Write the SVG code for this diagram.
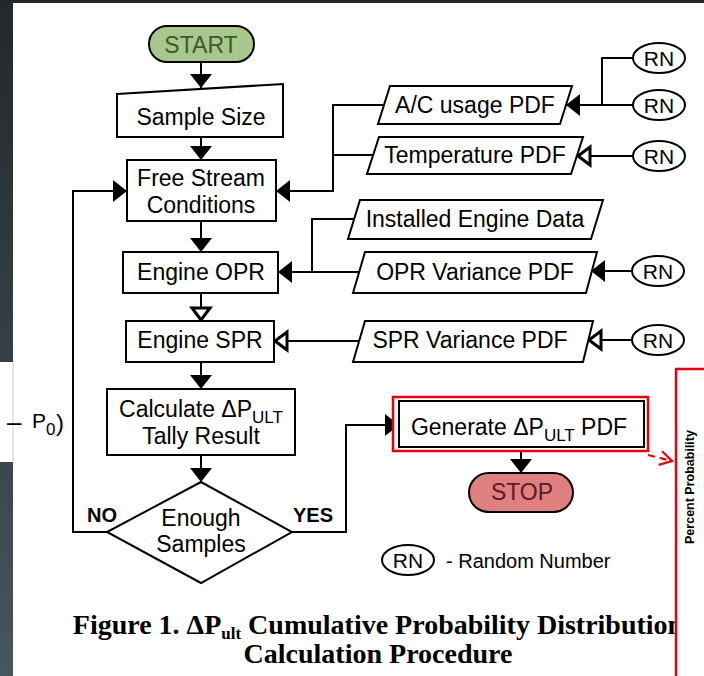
<svg xmlns="http://www.w3.org/2000/svg" width="704" height="676" viewBox="0 0 704 676">
<defs>
<linearGradient id="bg" x1="0" y1="0" x2="0" y2="1">
<stop offset="0" stop-color="#22282b"/>
<stop offset="1" stop-color="#46565f"/>
</linearGradient>
<marker id="af" markerUnits="userSpaceOnUse" viewBox="0 0 14 22" refX="14" refY="11" markerWidth="14" markerHeight="22" orient="auto">
<path d="M0,0 L14,11 L0,22 Z" fill="#000"/>
</marker>
<marker id="ah" markerUnits="userSpaceOnUse" viewBox="-3 -3 18 24" refX="12" refY="9" markerWidth="18" markerHeight="24" orient="auto">
<path d="M0,0 L12,9 L0,18 Z" fill="#fff" stroke="#000" stroke-width="3" stroke-linejoin="miter"/>
</marker>
<marker id="ar" markerUnits="userSpaceOnUse" viewBox="-2 -2 16 18" refX="12" refY="7" markerWidth="16" markerHeight="18" orient="auto">
<path d="M0,0 L12,7 L0,14" fill="none" stroke="#e8000b" stroke-width="2.2"/>
</marker>
</defs>
<style>
.t{font-family:"Liberation Sans",Arial,sans-serif;font-size:23px;fill:#000;text-anchor:middle}
.rn{font-family:"Liberation Sans",Arial,sans-serif;font-size:21px;fill:#000;text-anchor:middle}
.lbl{font-family:"Liberation Sans",Arial,sans-serif;font-size:20px;font-weight:bold;fill:#000;text-anchor:middle}
.sh{fill:#fff;stroke:#000;stroke-width:2}
.ell{fill:#fff;stroke:#000;stroke-width:2}
.c path{fill:none;stroke:#000;stroke-width:2}
.cap{font-family:"Liberation Serif","Times New Roman",serif;font-size:28px;font-weight:bold;fill:#000;text-anchor:middle}
.side{font-family:"Liberation Sans",Arial,sans-serif;fill:#000}
</style>

<rect x="0" y="0" width="704" height="676" fill="url(#bg)"/>
<rect x="13" y="3" width="691" height="673" fill="#fff"/>
<rect x="0" y="362" width="13" height="100" fill="#fff"/>
<line x1="13" y1="362" x2="13" y2="462" stroke="#d0d0d0" stroke-width="1"/>
<g id="side-formula">
<text x="7" y="431" class="side" font-size="26">–</text>
<text x="32" y="428" class="side" font-size="21">P</text>
<text x="46" y="435" class="side" font-size="17">0</text>
<text x="56" y="431" class="side" font-size="24">)</text>
</g>

<g id="connectors" class="c">
<path d="M201,62 V88" marker-end="url(#af)"/>
<path d="M201,137 V160" marker-end="url(#af)"/>
<path d="M201,221 V252" marker-end="url(#af)"/>
<path d="M201,293 V320" marker-end="url(#ah)"/>
<path d="M201,362 V389" marker-end="url(#af)"/>
<path d="M201,455 V482" marker-end="url(#af)"/>
<path d="M107,532 H73 V191 H127" marker-end="url(#af)"/>
<path d="M292,532 H346 V425 H399" marker-end="url(#af)"/>
<path d="M521,451 V473" marker-end="url(#af)"/>
<path d="M384,105 H333 V191 H276" marker-end="url(#af)"/>
<path d="M373,155 H333"/>
<path d="M633,58 H602 V105"/>
<path d="M633,105 H566" marker-end="url(#af)"/>
<path d="M633,156 H578" marker-end="url(#ah)"/>
<path d="M354,219 H312 V272"/>
<path d="M359,272 H278" marker-end="url(#af)"/>
<path d="M632,271 H591" marker-end="url(#af)"/>
<path d="M359,341 H275" marker-end="url(#ah)"/>
<path d="M632,340 H589" marker-end="url(#ah)"/>
<path d="M648,455 L672,461" style="stroke:#e8000b;stroke-width:2.2;stroke-dasharray:7 5" marker-end="url(#ar)"/>
</g>

<g id="start">
<rect x="149" y="26" width="105" height="36" rx="18" fill="#a8c78d" stroke="#000" stroke-width="2"/>
<text x="201" y="53" class="t" style="fill:#3b5a2a">START</text>
</g>
<g id="sample-size">
<polygon class="sh" points="117,94 283,84 283,137 117,137"/>
<text x="201" y="125" class="t">Sample Size</text>
</g>
<g id="free-stream">
<rect class="sh" x="127" y="160" width="149" height="61"/>
<text x="201" y="186" class="t">Free Stream</text>
<text x="201" y="213" class="t">Conditions</text>
</g>
<g id="engine-opr">
<rect class="sh" x="123" y="252" width="155" height="41"/>
<text x="201" y="280" class="t">Engine OPR</text>
</g>
<g id="engine-spr">
<rect class="sh" x="126" y="321" width="148" height="41"/>
<text x="200" y="348" class="t">Engine SPR</text>
</g>
<g id="calculate">
<rect class="sh" x="107" y="389" width="188" height="66"/>
<text x="201" y="417" class="t">Calculate ΔP<tspan font-size="17" dy="6">ULT</tspan></text>
<text x="201" y="444" class="t">Tally Result</text>
</g>
<g id="enough-samples">
<polygon class="sh" points="201,482 292,532 201,583 107,532"/>
<text x="201" y="526" class="t">Enough</text>
<text x="201" y="552" class="t">Samples</text>
</g>
<g id="label-no"><text x="102" y="522" class="lbl">NO</text></g>
<g id="label-yes"><text x="313" y="522" class="lbl">YES</text></g>
<g id="generate">
<rect x="393" y="397" width="255" height="54" fill="#fff" stroke="#e8000b" stroke-width="2.5"/>
<rect x="399" y="401" width="245" height="46" fill="none" stroke="#000" stroke-width="2"/>
<text x="519" y="435" class="t">Generate ΔP<tspan font-size="17" dy="6">ULT</tspan><tspan dy="-6"> PDF</tspan></text>
</g>
<g id="stop">
<rect x="469" y="473" width="104" height="39" rx="19.5" fill="#df7f80" stroke="#000" stroke-width="2"/>
<text x="522" y="500" class="t" style="fill:#5c1a1c">STOP</text>
</g>
<g id="ac-usage">
<polygon class="sh" points="390,86 572,86 560,124 378,124"/>
<text x="475" y="113" class="t">A/C usage PDF</text>
</g>
<g id="temperature">
<polygon class="sh" points="379,137 583,137 571,174 367,174"/>
<text x="475" y="163" class="t">Temperature PDF</text>
</g>
<g id="installed-engine">
<polygon class="sh" points="360,200 603,200 591,239 348,239"/>
<text x="475" y="227" class="t">Installed Engine Data</text>
</g>
<g id="opr-variance">
<polygon class="sh" points="365,252 597,252 586,293 353,293"/>
<text x="475" y="280" class="t">OPR Variance PDF</text>
</g>
<g id="spr-variance">
<polygon class="sh" points="365,321 593,321 583,362 353,362"/>
<text x="470" y="348" class="t">SPR Variance PDF</text>
</g>
<g id="rn1"><ellipse class="ell" cx="659" cy="58" rx="26" ry="15"/><text x="659" y="66" class="rn">RN</text></g>
<g id="rn2"><ellipse class="ell" cx="659" cy="105" rx="26" ry="15"/><text x="659" y="113" class="rn">RN</text></g>
<g id="rn3"><ellipse class="ell" cx="659" cy="156" rx="26" ry="15"/><text x="659" y="164" class="rn">RN</text></g>
<g id="rn4"><ellipse class="ell" cx="658" cy="271" rx="26" ry="15"/><text x="658" y="279" class="rn">RN</text></g>
<g id="rn5"><ellipse class="ell" cx="658" cy="340" rx="26" ry="15"/><text x="658" y="348" class="rn">RN</text></g>
<g id="legend">
<ellipse class="ell" cx="408" cy="560" rx="26" ry="15"/><text x="408" y="568" class="rn">RN</text>
<text x="446" y="568" font-family="'Liberation Sans',Arial,sans-serif" font-size="20" fill="#000">- Random Number</text>
</g>
<g id="caption">
<text x="378" y="634" class="cap">Figure 1. ΔP<tspan font-size="17" dy="5">ult</tspan><tspan dy="-5"> Cumulative Probability Distribution</tspan></text>
<text x="378" y="663" class="cap">Calculation Procedure</text>
</g>
<g id="chart-panel">
<rect x="676" y="369" width="40" height="320" fill="#fff" stroke="#e8000b" stroke-width="2.5"/>
<text transform="translate(694,487) rotate(-90)" font-family="'Liberation Sans',Arial,sans-serif" font-size="12.5" font-weight="bold" text-anchor="middle" fill="#000">Percent Probability</text>
</g>
</svg>
